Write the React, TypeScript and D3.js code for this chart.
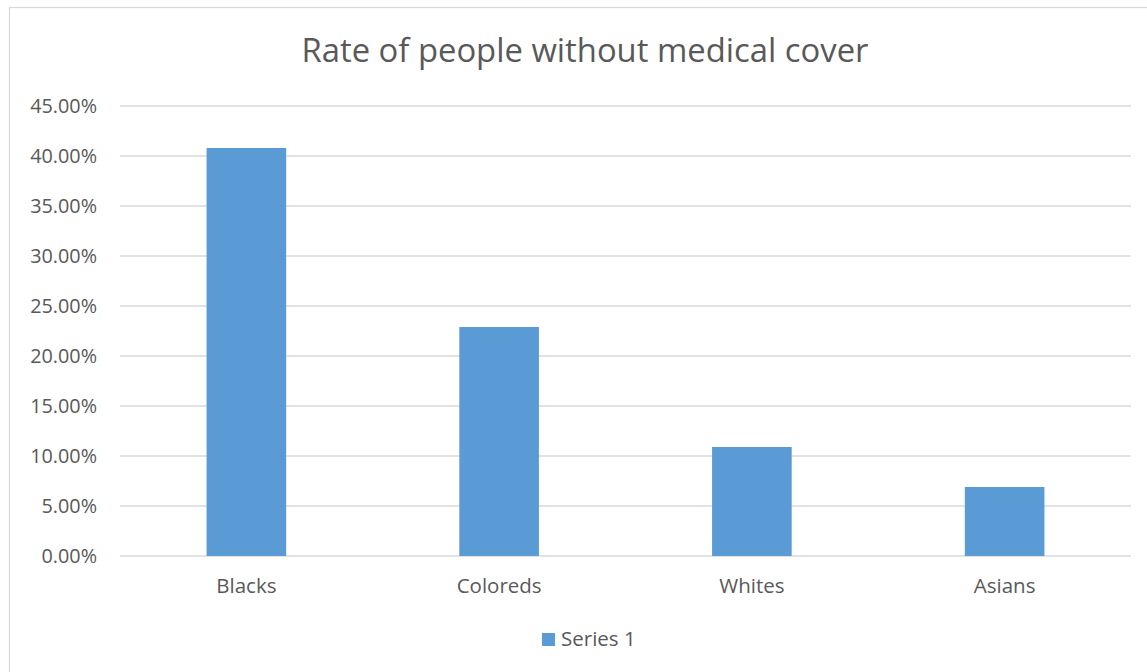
import React from "react";
import * as d3 from "d3";

const title = "Rate of people without medical cover";
const categories = ["Blacks", "Coloreds", "Whites", "Asians"];
const values = [0.408, 0.229, 0.109, 0.069];
const yTicks = [0, 0.05, 0.1, 0.15, 0.2, 0.25, 0.3, 0.35, 0.4, 0.45];
const seriesName = "Series 1";

const W = 1147;
const H = 672;
const FONT = "'Open Sans', sans-serif";
const TEXT = "#595959";
const GRID = "#d9d9d9";
const BAR = "#5b9bd5";

export default function App() {
  const plotLeft = 120;
  const plotRight = 1131;
  const plotTop = 106;
  const plotBottom = 556;

  const x = d3
    .scaleBand<string>()
    .domain(categories)
    .range([plotLeft, plotRight])
    .paddingInner(0.685)
    .paddingOuter(0.3425);
  const y = d3.scaleLinear().domain([0, 0.45]).range([plotBottom, plotTop]);
  const fmt = d3.format(".2%");

  return (
    <svg
      width={W}
      height={H}
      style={{ position: "absolute", left: 0, top: 0, background: "#fff" }}
      fontFamily={FONT}
    >
      <rect x={0} y={0} width={W} height={H} fill="#fff" />
      <rect x={9.5} y={7.5} width={1160} height={700} fill="#fff" stroke={GRID} strokeWidth={1.3} />
      <text x={585} y={62} textAnchor="middle" fontSize={32.8} fill={TEXT}>
        {title}
      </text>
      {yTicks.map((t) => (
        <g key={t}>
          <line x1={plotLeft} x2={plotRight} y1={y(t)} y2={y(t)} stroke={GRID} strokeWidth={1.3} />
          <text x={97} y={y(t)} dy="0.36em" textAnchor="end" fontSize={19.8} fill={TEXT}>
            {fmt(t)}
          </text>
        </g>
      ))}
      {categories.map((c, i) => (
        <g key={c}>
          <rect x={x(c)} y={y(values[i])} width={x.bandwidth()} height={y(0) - y(values[i])} fill={BAR} />
          <text x={(x(c) as number) + x.bandwidth() / 2} y={593} textAnchor="middle" fontSize={20.5} fill={TEXT}>
            {c}
          </text>
        </g>
      ))}
      <rect x={542} y={633} width={13} height={13} fill={BAR} />
      <text x={561} y={646} fontSize={20.5} fill={TEXT}>
        {seriesName}
      </text>
    </svg>
  );
}
